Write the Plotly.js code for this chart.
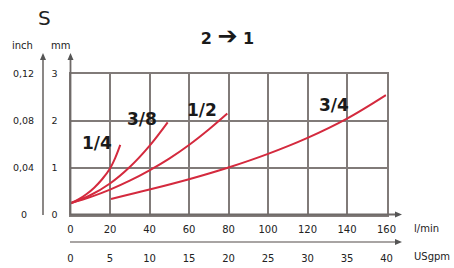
<!DOCTYPE html>
<html>
<head>
<meta charset="utf-8">
<script src="https://cdn.plot.ly/plotly-3.0.1.min.js"></script>
<style>html,body{margin:0;padding:0;background:#fff;}#chart{width:454px;height:268px;}</style>
</head>
<body>
<div id="chart"></div>
<script>
// ---- data ----
const flowQuarter = [0, 4, 8, 12, 16, 20, 22.6, 25.2];
const dropQuarter = [0.24, 0.32, 0.43, 0.57, 0.75, 0.98, 1.20, 1.48];

const flowThreeEighth = [0, 10, 20, 30, 40, 49.2];
const dropThreeEighth = [0.24, 0.41, 0.66, 1.01, 1.46, 1.96];

const flowHalf = [0, 10, 20, 30, 40, 50, 60, 70, 79.4];
const dropHalf = [0.24, 0.37, 0.53, 0.72, 0.94, 1.19, 1.48, 1.81, 2.15];

const flowThreeQuarter = [20.5, 40, 60, 80, 100, 120, 140, 159.7];
const dropThreeQuarter = [0.33, 0.53, 0.75, 1.00, 1.29, 1.63, 2.04, 2.54];

const seriesNames = ['1/4', '3/8', '1/2', '3/4'];
const lpmTicks = [0, 20, 40, 60, 80, 100, 120, 140, 160];
const gpmTicks = [0, 5, 10, 15, 20, 25, 30, 35, 40];
const mmTicks = [0, 1, 2, 3];
const inchTickText = ['0', '0,04', '0,08', '0,12'];

// ---- layout helpers (pixel -> paper) ----
const W = 454, H = 268;
const px = v => v / W;
const py = v => 1 - v / H;

const red = '#d42a3e';
const gridCol = '#817b79';
const font = 'DejaVu Sans, Arial, sans-serif';

function curve(x, y) {
  return {x: x, y: y, type: 'scatter', mode: 'lines',
    line: {color: red, width: 2, shape: 'spline', smoothing: 1},
    hoverinfo: 'skip', showlegend: false};
}
const traces = [
  curve(flowQuarter, dropQuarter),
  curve(flowThreeEighth, dropThreeEighth),
  curve(flowHalf, dropHalf),
  curve(flowThreeQuarter, dropThreeQuarter),
  {x: [gpmTicks[0], gpmTicks[gpmTicks.length-1]], y: [0, 0], xaxis: 'x2', yaxis: 'y',
   type: 'scatter', mode: 'none', hoverinfo: 'skip', showlegend: false}
];

// curve label positions (data coords)
const labelPos = [[13.3, 1.53], [36.4, 2.03], [66.8, 2.22], [133.4, 2.34]];

const annotations = [];
seriesNames.forEach((n, i) => annotations.push({
  x: labelPos[i][0], y: labelPos[i][1], xref: 'x', yref: 'y', text: n, showarrow: false,
  font: {family: font, size: 17, color: '#1a1a1a', weight: 'bold'}, xanchor: 'center', yanchor: 'middle'
}));
mmTicks.forEach((v, i) => annotations.push({
  x: px(23.5), y: v, xref: 'paper', yref: 'y', text: inchTickText[i], showarrow: false,
  font: {family: font, size: 9.5, color: '#222'}, xanchor: 'center', yanchor: 'middle'
}));
const txt = (t, x, y, size, weight) => ({x: px(x), y: py(y), xref: 'paper', yref: 'paper', text: t,
  showarrow: false, xanchor: 'center', yanchor: 'middle', font: {family: font, size: size, color: '#222', weight: weight || 'normal'}});
annotations.push(txt('S', 44.5, 18, 20));
annotations.push(txt('inch', 22.5, 46, 10));
annotations.push(txt('mm', 60.5, 46, 10));
annotations.push(txt('l/min', 426, 228, 10));
annotations.push(txt('USgpm', 431.5, 256, 10));

const shapes = [];
function hline(x0, x1, y, col, w) {
  shapes.push({type: 'line', xref: 'paper', yref: 'paper', x0: px(x0), x1: px(x1), y0: py(y), y1: py(y), line: {color: col, width: w}});
}
function vline(x, y0, y1, col, w) {
  shapes.push({type: 'line', xref: 'paper', yref: 'paper', x0: px(x), x1: px(x), y0: py(y0), y1: py(y1), line: {color: col, width: w}});
}
function triRight(x, y, col) {
  shapes.push({type: 'path', xref: 'paper', yref: 'paper',
    path: `M ${px(x)} ${py(y)} L ${px(x-7)} ${py(y-3)} L ${px(x-7)} ${py(y+3)} Z`, fillcolor: col, line: {width: 0}});
}
function triUp(x, y, col) {
  shapes.push({type: 'path', xref: 'paper', yref: 'paper',
    path: `M ${px(x)} ${py(y)} L ${px(x-3)} ${py(y+7)} L ${px(x+3)} ${py(y+7)} Z`, fillcolor: col, line: {width: 0}});
}
hline(70, 396, 214.5, '#6f6a68', 1.8); triRight(402, 214.5, '#555');
hline(70, 396, 242, '#a8a4a3', 2.2); triRight(402, 242, '#555');
vline(70.5, 215, 59, '#6f6a68', 1.8); triUp(70.5, 53, '#555');
vline(43, 215, 59, '#6f6a68', 1.6); triUp(43, 53, '#555');

const layout = {
  width: W, height: H,
  margin: {l: 0, r: 0, t: 0, b: 0},
  paper_bgcolor: '#fff', plot_bgcolor: '#fff',
  showlegend: false,
  title: {text: '2 <span style="font-size:24px">➔</span> 1', x: px(227.5), y: py(38), xref: 'paper', yref: 'paper', xanchor: 'center', yanchor: 'middle',
    font: {family: font, size: 16, color: '#1a1a1a', weight: 'bold'}},
  xaxis: {domain: [px(70.5), px(386.5)], range: [0, 160], tickvals: lpmTicks, ticktext: lpmTicks.map(String),
    showgrid: true, gridcolor: gridCol, gridwidth: 2, zeroline: false,
    showline: true, mirror: true, linecolor: gridCol, linewidth: 2,
    ticks: 'outside', ticklen: 4, tickcolor: 'rgba(0,0,0,0)', tickfont: {family: font, size: 10, color: '#222'},
    fixedrange: true, anchor: 'y'},
  xaxis2: {overlaying: 'x', anchor: 'free', position: py(242), domain: [px(70.5), px(386.5)], range: [0, 40],
    tickvals: gpmTicks, ticktext: gpmTicks.map(String), showgrid: false, zeroline: false, showline: false,
    ticks: 'outside', ticklen: 7, tickcolor: 'rgba(0,0,0,0)', tickfont: {family: font, size: 10, color: '#222'}, side: 'bottom'},
  yaxis: {domain: [py(214.5), py(73.5)], range: [0, 3], tickvals: mmTicks, ticktext: mmTicks.map(String),
    showgrid: true, gridcolor: gridCol, gridwidth: 2, zeroline: false,
    showline: true, mirror: true, linecolor: gridCol, linewidth: 2,
    ticks: 'outside', ticklen: 9, tickcolor: 'rgba(0,0,0,0)', tickfont: {family: font, size: 9.5, color: '#222'},
    fixedrange: true, anchor: 'x'},
  shapes: shapes,
  annotations: annotations
};
Plotly.newPlot('chart', traces, layout, {staticPlot: true, displayModeBar: false});
</script>
</body>
</html>
